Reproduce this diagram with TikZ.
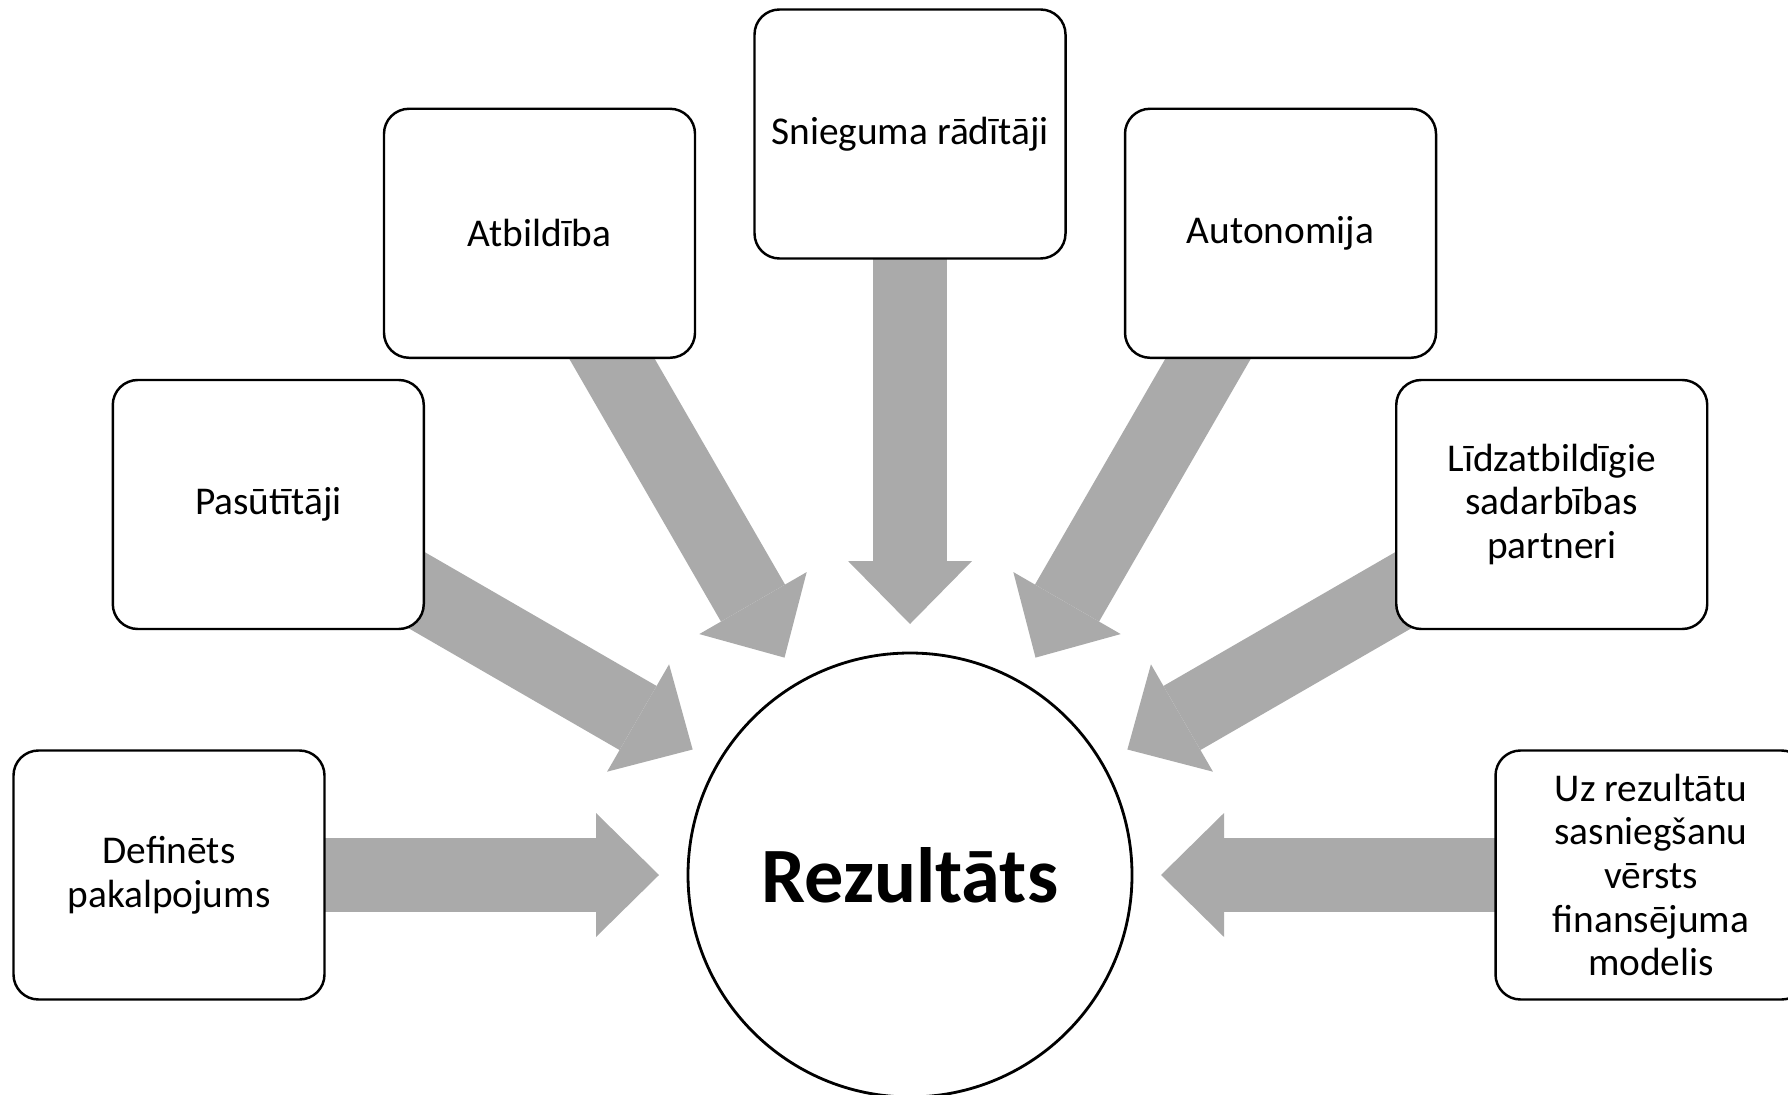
\documentclass[tikz,border=0pt]{standalone}
\usepackage{fontspec}
\setmainfont{Carlito}
\usepackage{tikz}
\usetikzlibrary{arrows.meta,calc,backgrounds}
\definecolor{arrowgray}{RGB}{170,170,170}

\begin{document}
\begin{tikzpicture}
    \tikzstyle{box} = [draw, rectangle, line width=0.7pt, fill=white, rounded corners=0.25cm, minimum width=3.11cm, minimum height=2.49cm, align=center, font=\fontsize{11.2}{12.4}\selectfont]
    \tikzstyle{result} = [draw, circle, line width=0.8pt, fill=white, minimum size=4.44cm, font=\fontsize{22.3}{26}\selectfont\bfseries]
    \tikzstyle{arrow} = [line width=0.74cm, draw=arrowgray, -{Triangle[length=0.63cm, width=1.24cm, line width=0pt]}]
    \useasboundingbox (0,0) rectangle (17.88,-10.95);

    \node (res) [result] at (9.10,-8.75) {Rezultāts};
    \node (def) [box] at ($(res)+(180:7.41)$) {Definēts\\pakalpojums};
    \node (pas) [box] at ($(res)+(150:7.41)$) {Pasūtītāji};
    \node (atb) [box] at ($(res)+(120:7.41)$) {Atbildība};
    \node (sni) [box] at ($(res)+(90:7.41)$) {Snieguma rādītāji};
    \node (aut) [box] at ($(res)+(60:7.41)$) {Autonomija};
    \node (lid) [box] at ($(res)+(30:7.41)$) {Līdzatbildīgie\\sadarbības\\partneri};
    \node (uz) [box] at ($(res)+(0:7.41)$) {Uz rezultātu\\sasniegšanu\\vērsts\\finansējuma\\modelis};

    % arrow tips stop short of the circle
    \coordinate (tdef) at ($(res)+(180:2.51)$);
    \coordinate (tpas) at ($(res)+(150:2.51)$);
    \coordinate (tatb) at ($(res)+(120:2.51)$);
    \coordinate (tsni) at ($(res)+(90:2.51)$);
    \coordinate (taut) at ($(res)+(60:2.51)$);
    \coordinate (tlid) at ($(res)+(30:2.51)$);
    \coordinate (tuz) at ($(res)+(0:2.51)$);

    \begin{scope}[on background layer]
    \draw [arrow] (def.center) -- (tdef);
    \draw [arrow] (pas.center) -- (tpas);
    \draw [arrow] (atb.center) -- (tatb);
    \draw [arrow] (sni.center) -- (tsni);
    \draw [arrow] (aut.center) -- (taut);
    \draw [arrow] (lid.center) -- (tlid);
    \draw [arrow] (uz.center) -- (tuz);
    \end{scope}
\end{tikzpicture}
\end{document}
